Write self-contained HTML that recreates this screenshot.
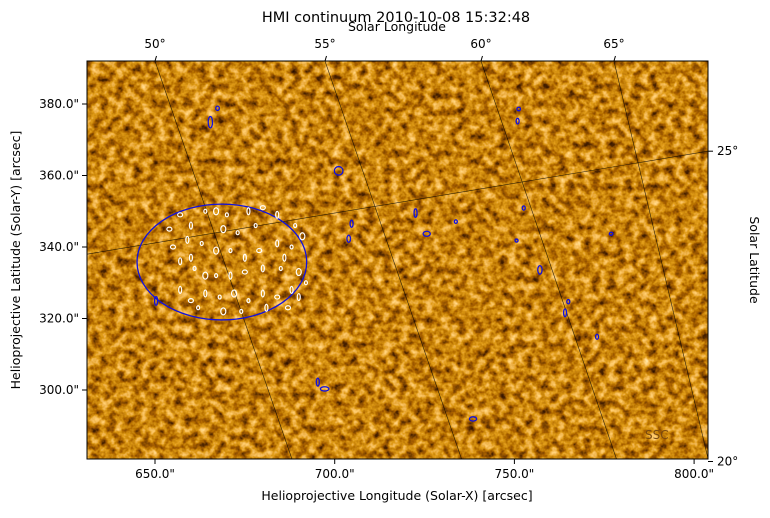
<!DOCTYPE html>
<html><head><meta charset="utf-8"><style>
body{margin:0;background:#fff;width:770px;height:513px;overflow:hidden;font-family:"Liberation Sans","DejaVu Sans",sans-serif}
svg text{font-family:"DejaVu Sans","Liberation Sans",sans-serif}
</style></head><body>
<svg id="chart" width="770" height="513" viewBox="0 0 770 513">
<defs>
<clipPath id="clip"><rect x="87" y="61" width="621" height="398"/></clipPath>
<filter id="sun" x="0" y="0" width="100%" height="100%">
<feTurbulence type="fractalNoise" baseFrequency="0.12" numOctaves="3" seed="7" result="n"/>
<feColorMatrix type="matrix" values="1 0 0 0 0 1 0 0 0 0 1 0 0 0 0 0 0 0 0 1"/>
<feComponentTransfer>
<feFuncR type="table" tableValues="0 0.08 0.4 0.76 1 1"/>
<feFuncG type="table" tableValues="0 0.02 0.12 0.34 0.6 0.85"/>
<feFuncB type="table" tableValues="0 0 0 0.01 0.15 0.45"/>
<feFuncA type="table" tableValues="1 1"/>
</feComponentTransfer>
</filter>
</defs>
<text x="396" y="22" font-size="14.5" text-anchor="middle">HMI continuum 2010-10-08 15:32:48</text>
<g clip-path="url(#clip)">
<rect x="87" y="61" width="621" height="398" fill="#9a5a06" filter="url(#sun)"/>
<g id="grid"></g><g id="contours"></g>
</g>
<text x="645" y="439" font-size="12" fill="#7a4a10">SSC</text>
<rect x="87" y="61" width="621" height="398" fill="none" stroke="#000" stroke-width="1"/>
<g id="axes"></g>
<text x="397" y="500" font-size="12.5" text-anchor="middle">Helioprojective Longitude (Solar-X) [arcsec]</text>
<text x="20" y="260" font-size="12.5" text-anchor="middle" transform="rotate(-90 20 260)">Helioprojective Latitude (Solar-Y) [arcsec]</text>
<text x="397" y="31" font-size="12.5" text-anchor="middle">Solar Longitude</text>
<text x="750" y="260" font-size="12.5" text-anchor="middle" transform="rotate(90 750 260)">Solar Latitude</text>
</svg>
<script>
const xTicks=[650,700,750,800];
const yTicks=[380,360,340,320,300];
const lonLabels=["50°","55°","60°","65°"];
const lonTop=[650,697.3,740.7,777.7];
const lonBottom=[688.1,735.3,778.4,803.9];
const latLabels=["25°","20°"];
const latLeft=[338,279.5];
const latRight=[366.8,280];
const rimEllipse=[668.6,335.8,23.6,16.2];
const blueBlobs=[[665.4,374.9,0.6,1.6],[667.4,378.8,0.5,0.6],[701.1,361.3,1.2,1.2],[703.9,342.3,0.5,1],[704.7,346.5,0.4,1],[722.5,349.5,0.4,1.2],[725.6,343.7,1.0,0.7],[733.7,347.1,0.4,0.5],[751.2,378.6,0.5,0.5],[750.9,375.2,0.4,0.8],[752.6,350.9,0.3,0.6],[757.1,333.6,0.6,1.2],[764.1,321.6,0.4,1.1],[765,324.7,0.3,0.6],[773,314.9,0.4,0.7],[776.9,343.7,0.5,0.3],[750.6,341.8,0.3,0.3],[650.3,324.9,0.4,1.2],[695.3,302.2,0.4,1.1],[697.2,300.3,1.2,0.6],[738.5,291.9,1.0,0.6]];
const whiteBlobs=[[657,349],[660,346],[664,350],[667,350],[670,349],[676,350],[680,351],[684,349],[689,346],[691,343],[688,340],[684,341],[679,339],[675,337],[671,339],[667,339],[663,341],[659,342],[655,340],[657,336],[661,334],[664,332],[667,332],[671,332],[675,333],[680,334],[685,334],[690,333],[692,330],[688,328],[684,326],[680,327],[676,325],[672,327],[668,326],[664,327],[660,325],[657,328],[662,323],[669,322],[674,322],[681,323],[687,323],[690,326],[673,344],[669,345],[678,346],[660,337],[654,345],[686,337]];
const X=v=>155+(v-650)*3.594, Y=v=>104+(380-v)*3.575, NS="http://www.w3.org/2000/svg";
function mk(t,a,p){const e=document.createElementNS(NS,t);for(const k in a)e.setAttribute(k,a[k]);p.appendChild(e);return e;}
const grid=document.getElementById('grid'),axes=document.getElementById('axes'),con=document.getElementById('contours');
lonTop.forEach((v,i)=>{const l=mk('line',{x1:X(v),y1:61,x2:X(lonBottom[i]),y2:459,stroke:'#000','stroke-width':0.6,'stroke-opacity':0.8},grid);


const t=mk('text',{x:X(v),y:48,'font-size':12,'text-anchor':'middle'},axes);t.textContent=lonLabels[i];


mk('line',{x1:X(v),y1:61,x2:X(v)+1.5,y2:56,stroke:'#000'},axes);});
latLeft.forEach((v,i)=>{const l=mk('line',{x1:87,y1:Y(v),x2:708,y2:Y(latRight[i]),stroke:'#000','stroke-width':0.6,'stroke-opacity':0.8},grid);


const t=mk('text',{x:717,y:Y(latRight[i])+4,'font-size':12},axes);t.textContent=latLabels[i];


mk('line',{x1:708,y1:Y(latRight[i]),x2:713,y2:Y(latRight[i]),stroke:'#000'},axes);});
xTicks.forEach(v=>{mk('line',{x1:X(v),y1:459,x2:X(v),y2:464,stroke:'#000'},axes);
const t=mk('text',{x:X(v),y:478,'font-size':12,'text-anchor':'middle'},axes);t.textContent=v.toFixed(1)+'"';

});
yTicks.forEach(v=>{mk('line',{x1:82,y1:Y(v),x2:87,y2:Y(v),stroke:'#000'},axes);
const t=mk('text',{x:79,y:Y(v)+4,'font-size':12,'text-anchor':'end'},axes);t.textContent=v.toFixed(1)+'"';

});
const r=mk('ellipse',{cx:X(rimEllipse[0]),cy:Y(rimEllipse[1]),rx:rimEllipse[2]*3.594,ry:rimEllipse[3]*3.575,fill:'none',stroke:'#1010e0','stroke-width':1.3},con);


blueBlobs.forEach(b=>{const e=mk('ellipse',{cx:X(b[0]),cy:Y(b[1]),rx:Math.max(1.5,b[2]*3.594),ry:Math.max(1.5,b[3]*3.575),fill:'none',stroke:'#1010e0','stroke-width':1.3},con);

});
whiteBlobs.forEach((b,i)=>{const e=mk('ellipse',{cx:X(b[0]),cy:Y(b[1]),rx:i%3?1.5:2.5,ry:i%2?3.5:2,fill:'none',stroke:'#fff','stroke-width':1.2},con);

});
</script>
</body></html>
